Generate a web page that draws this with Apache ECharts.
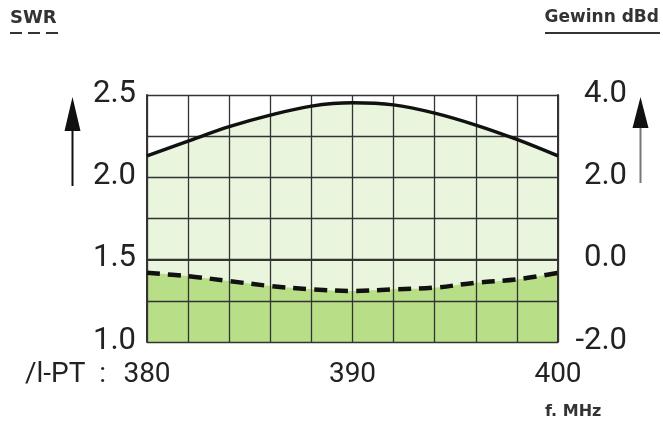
<!DOCTYPE html>
<html><head><meta charset="utf-8">
<script src="https://cdn.jsdelivr.net/npm/echarts@6/dist/echarts.min.js"></script>
<style>html,body{margin:0;padding:0;background:#fff}#c{width:663px;height:426px}</style>
</head><body><div id="c"></div>
<script>
// Frequency (MHz)
const freqs = [380, 382, 384, 386, 388, 390, 392, 394, 396, 398, 400];
// Gain in dBd (right axis, solid line)
const gainDbd = [2.52, 2.88, 3.23, 3.51, 3.73, 3.81, 3.76, 3.56, 3.27, 2.92, 2.52];
// SWR (left axis, dashed line)
const swr = [1.42, 1.40, 1.37, 1.34, 1.32, 1.31, 1.32, 1.33, 1.36, 1.38, 1.42];
// Tick labels
const xTickLabels = [380, 390, 400];
const swrTickLabels = [1.0, 1.5, 2.0, 2.5];
const gainTickLabels = [-2, 0, 2, 4];
const xPrefix = '/l-PT  :  ';

const gainPts = freqs.map((f, i) => [f, gainDbd[i]]);
const swrPts = freqs.map((f, i) => [f, swr[i]]);
const has = (arr, v) => arr.some(a => Math.abs(a - v) < 1e-6);

const gridColor = '#333';
const txt = '#222';
const fam = 'Roboto';

const chart = echarts.init(document.getElementById('c'), null, {renderer: 'canvas'});
chart.setOption({
  animation: false,
  backgroundColor: '#fff',
  title: [
    {text: 'SWR', left: 10, top: 9, padding: 0,
     textStyle: {fontFamily: 'DejaVu Sans', fontWeight: 'bold', fontSize: 18, color: '#333'}},
    {text: 'Gewinn dBd', right: 4, top: 9, padding: 0,
     textStyle: {fontFamily: 'DejaVu Sans', fontWeight: 'bold', fontSize: 17, color: '#333'}},
    {text: 'f. MHz', left: 545, top: 404, padding: 0,
     textStyle: {fontFamily: 'DejaVu Sans', fontWeight: 'bold', fontSize: 16, color: '#333'}}
  ],
  graphic: [
    {type: 'line', shape: {x1: 10, y1: 33, x2: 59, y2: 33}, style: {stroke: '#333', lineWidth: 2.2, lineDash: [12, 6]}},
    {type: 'line', shape: {x1: 545, y1: 33, x2: 660, y2: 33}, style: {stroke: '#333', lineWidth: 2}},
    {type: 'line', shape: {x1: 72.5, y1: 186, x2: 72.5, y2: 125}, style: {stroke: '#111', lineWidth: 2}},
    {type: 'polygon', shape: {points: [[64.5, 131], [80.5, 131], [72.5, 97]]}, style: {fill: '#111'}},
    {type: 'line', shape: {x1: 640.5, y1: 183, x2: 640.5, y2: 125}, style: {stroke: '#777', lineWidth: 2}},
    {type: 'polygon', shape: {points: [[632.5, 128], [648.5, 128], [640.5, 97]]}, style: {fill: '#111'}}
  ],
  grid: {left: 147, right: 105, top: 95, bottom: 84, containLabel: false},
  xAxis: {
    type: 'value', min: 380, max: 400, interval: 2, z: 3,
    axisLine: {show: true, lineStyle: {color: gridColor, width: 2}},
    axisTick: {show: false},
    splitLine: {show: true, lineStyle: {color: gridColor, width: 1.3}},
    axisLabel: {
      margin: 19, color: txt, fontFamily: fam, fontSize: 28,
      formatter: v => {
        if (!has(xTickLabels, v)) return '';
        if (v === xTickLabels[0]) return '{p|' + xPrefix + '}{v|' + v + '}{q|}';
        return String(v);
      },
      rich: {
        p: {width: 102, align: 'right', fontFamily: fam, fontSize: 28, color: txt},
        v: {fontFamily: fam, fontSize: 28, color: txt},
        q: {width: 102, fontFamily: fam, fontSize: 28}
      }
    }
  },
  yAxis: [
    {
      type: 'value', min: 1.0, max: 2.5, interval: 0.25, z: 3, position: 'left',
      axisLine: {show: true, lineStyle: {color: gridColor, width: 2}},
      axisTick: {show: false},
      splitLine: {show: true, lineStyle: {color: gridColor, width: 1.3}},
      axisLabel: {
        margin: 11, color: txt, fontFamily: fam, fontSize: 31, verticalAlign: 'bottom', lineHeight: 2,
        formatter: v => has(swrTickLabels, v) ? v.toFixed(1) : ''
      }
    },
    {
      type: 'value', min: -2, max: 4, interval: 1, z: 3, position: 'right',
      axisLine: {show: true, lineStyle: {color: gridColor, width: 2}},
      axisTick: {show: false},
      splitLine: {show: false},
      axisLabel: {
        margin: 69, align: 'right', color: txt, fontFamily: fam, fontSize: 31, verticalAlign: 'bottom', lineHeight: 2,
        formatter: v => has(gainTickLabels, v) ? v.toFixed(1) : ''
      }
    }
  ],
  series: [
    {type: 'line', name: 'gainArea', yAxisIndex: 1, data: gainPts, smooth: 0.35, symbol: 'none', z: 1,
     lineStyle: {width: 0}, areaStyle: {color: '#e9f5dc', opacity: 1, origin: 'start'}},
    {type: 'line', name: 'swrArea', yAxisIndex: 0, data: swrPts, smooth: 0.35, symbol: 'none', z: 2,
     lineStyle: {width: 0}, areaStyle: {color: '#b8de88', opacity: 1, origin: 'start'}},
    {type: 'line', name: 'Gewinn', yAxisIndex: 1, data: gainPts, smooth: 0.35, symbol: 'none', z: 5,
     lineStyle: {color: '#111', width: 3.5}},
    {type: 'line', name: 'SWR', yAxisIndex: 0, data: swrPts, smooth: 0.35, symbol: 'none', z: 5,
     lineStyle: {color: '#111', width: 4.5, type: [13, 8]}}
  ]
});
</script></body></html>
